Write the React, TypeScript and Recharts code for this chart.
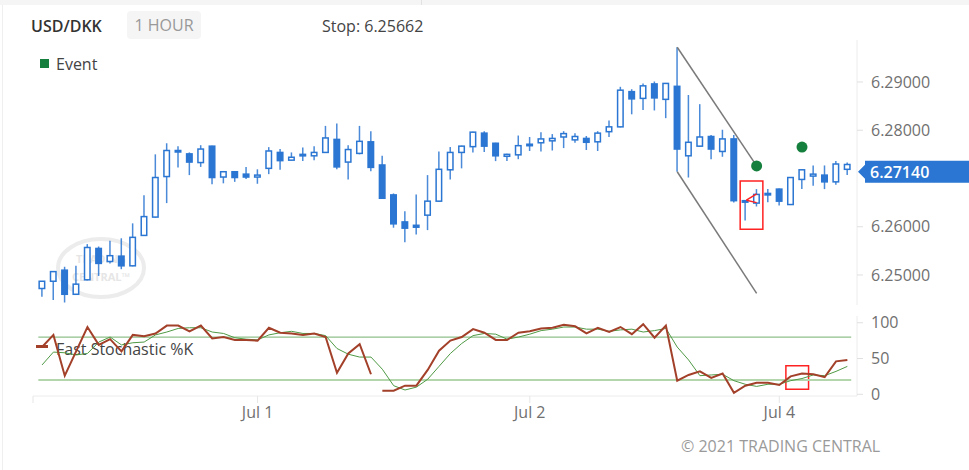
import React from "react";
import {
  ComposedChart,
  Bar,
  Line,
  Scatter,
  XAxis,
  YAxis,
  ReferenceLine,
  ReferenceArea,
} from "recharts";

// hourly candles, USD/DKK
const opens = [
  6.2472, 6.2487, 6.2510, 6.2460, 6.2490, 6.2555, 6.2528, 6.2539, 6.2519, 6.2582,
  6.2620, 6.2704, 6.2758, 6.2751, 6.2733, 6.2767, 6.2703, 6.2714, 6.2709, 6.2703,
  6.2721, 6.2754, 6.2738, 6.2747, 6.2747, 6.2754, 6.2781, 6.2734, 6.2752, 6.2776,
  6.2728, 6.2666, 6.2610, 6.2603, 6.2624, 6.2653, 6.2718, 6.2754, 6.2766, 6.2794,
  6.2773, 6.2746, 6.2749, 6.2768, 6.2774, 6.2778, 6.2786, 6.2780, 6.2783, 6.2776,
  6.2797, 6.2807, 6.2880, 6.2866, 6.2896, 6.2864, 6.2891, 6.2747, 6.2767, 6.2787,
  6.2756, 6.2782, 6.2654, 6.2649, 6.2668, 6.2678, 6.2646, 6.2698, 6.2705, 6.2707,
  6.2693, 6.2719,
];
const highs = [
  6.2487, 6.2508, 6.2517, 6.2519, 6.2564, 6.2559, 6.2571, 6.2576, 6.2607, 6.2665,
  6.2750, 6.2773, 6.2767, 6.2754, 6.2769, 6.2768, 6.2715, 6.2715, 6.2724, 6.2719,
  6.2765, 6.2761, 6.2754, 6.2764, 6.2767, 6.2809, 6.2814, 6.2769, 6.2809, 6.2798,
  6.2747, 6.2669, 6.2632, 6.2667, 6.2707, 6.2756, 6.2765, 6.2768, 6.2797, 6.2798,
  6.2774, 6.2751, 6.2789, 6.2786, 6.2796, 6.2792, 6.2798, 6.2794, 6.2788, 6.2798,
  6.2820, 6.2890, 6.2885, 6.2897, 6.2901, 6.2898, 6.2972, 6.2873, 6.2854, 6.2790,
  6.2801, 6.2790, 6.2655, 6.2678, 6.2678, 6.2679, 6.2703, 6.2719, 6.2727, 6.2727,
  6.2736, 6.2733,
];
const lows = [
  6.2455, 6.2448, 6.2443, 6.2459, 6.2489, 6.2498, 6.2524, 6.2512, 6.2518, 6.2581,
  6.2619, 6.2649, 6.2723, 6.2707, 6.2724, 6.2688, 6.2690, 6.2693, 6.2699, 6.2689,
  6.2709, 6.2718, 6.2737, 6.2736, 6.2738, 6.2753, 6.2719, 6.2698, 6.2750, 6.2715,
  6.2658, 6.2598, 6.2568, 6.2584, 6.2593, 6.2652, 6.2698, 6.2721, 6.2754, 6.2755,
  6.2736, 6.2736, 6.2740, 6.2757, 6.2756, 6.2758, 6.2763, 6.2774, 6.2759, 6.2757,
  6.2786, 6.2806, 6.2833, 6.2842, 6.2841, 6.2825, 6.2714, 6.2702, 6.2766, 6.2740,
  6.2745, 6.2650, 6.2613, 6.2642, 6.2651, 6.2644, 6.2645, 6.2678, 6.2685, 6.2678,
  6.2687, 6.2707,
];
const closes = [
  6.2487, 6.2507, 6.2460, 6.2481, 6.2557, 6.2524, 6.2540, 6.2519, 6.2578, 6.2621,
  6.2702, 6.2758, 6.2757, 6.2734, 6.2761, 6.2702, 6.2714, 6.2702, 6.2703, 6.2707,
  6.2757, 6.2737, 6.2744, 6.2750, 6.2754, 6.2784, 6.2724, 6.2760, 6.2777, 6.2723,
  6.2659, 6.2606, 6.2597, 6.2599, 6.2653, 6.2719, 6.2754, 6.2767, 6.2796, 6.2767,
  6.2747, 6.2750, 6.2768, 6.2771, 6.2782, 6.2783, 6.2793, 6.2787, 6.2775, 6.2794,
  6.2807, 6.2883, 6.2865, 6.2892, 6.2867, 6.2897, 6.2761, 6.2775, 6.2786, 6.2761,
  6.2782, 6.2654, 6.2651, 6.2667, 6.2669, 6.2653, 6.2702, 6.2718, 6.2709, 6.2693,
  6.2730, 6.2729,
];

// fast stochastic %K (line breaks before index 30) and its average
const stochK = [
  66, 83, 26, 60, 94, 69, 77, 60, 83, 81,
  85, 96, 96, 88, 96, 78, 80, 76, 76, 75,
  93, 86, 85, 83, 85, 80, 30, 57, 70, 28,
  5, 5, 12, 12, 34, 61, 75, 80, 91, 86,
  76, 76, 86, 88, 92, 93, 97, 95, 85, 93,
  87, 94, 84, 98, 79, 96, 19, 27, 32, 23,
  29, 2, 12, 16, 16, 13, 25, 29, 28, 24,
  46, 48,
];
const stochD = [
  41, 59, 58, 55, 57, 73, 80, 69, 72, 73,
  83, 87, 92, 93, 93, 87, 85, 79, 77, 76,
  83, 86, 88, 85, 85, 82, 64, 56, 52, 52,
  35, 12, 6, 10, 21, 39, 57, 71, 82, 85,
  84, 77, 80, 84, 89, 91, 94, 94, 91, 91,
  88, 90, 91, 87, 89, 92, 66, 48, 26, 27,
  28, 19, 14, 11, 14, 14, 19, 22, 27, 26,
  32, 39,
];
const kBreakAt = 30;

const eventIdx = [63, 67];
const eventPrice = [6.2726, 6.2765];

const dateTicks = [-0.8, 19, 43, 65];
const dateLabels = ["", "Jul 1", "Jul 2", "Jul 4"];
// 6.27000 sits under the last-price tag
const priceTicks = [6.25, 6.26, 6.28, 6.29];
const stochTicks = [0, 50, 100];
const lastPrice = 6.2714;

const BLUE = "#2b76d2";
const FONT = "'Open Sans', 'Noto Sans', sans-serif";
const X_DOMAIN: [number, number] = [-0.8, 71.85];

const candleRows = opens.map((o, i) => ({
  i,
  o,
  h: highs[i],
  l: lows[i],
  c: closes[i],
  range: [lows[i], highs[i]],
}));

const eventRows = eventIdx.map((i, k) => ({ i, ev: eventPrice[k] }));

const stochRows = stochK.map((k, i) => ({
  i,
  kA: i < kBreakAt ? k : null,
  kB: i >= kBreakAt ? k : null,
  d: stochD[i],
}));

const Candle = (props: any) => {
  const { x, width, payload } = props;
  const y = Math.min(props.y, props.y + props.height);
  const height = Math.abs(props.height);
  const { o, h, l, c } = payload;
  const ppu = height / (h - l);
  const cx = x + width / 2;
  const up = c >= o;
  const top = y + (h - Math.max(o, c)) * ppu;
  const bot = y + (h - Math.min(o, c)) * ppu;
  const bh = Math.max(bot - top, 1.5);
  return (
    <g>
      <line x1={cx} x2={cx} y1={y} y2={y + height} stroke={BLUE} strokeWidth={1.5} opacity={0.85} />
      <rect
        x={x + 0.75}
        y={top}
        width={width - 1.5}
        height={bh}
        fill={up ? "#fff" : BLUE}
        stroke={BLUE}
        strokeWidth={1.5}
      />
    </g>
  );
};

const EventDot = (props: any) => (
  <circle cx={props.cx} cy={props.cy} r={5.5} fill="#15803d" />
);

const PriceTag = (props: any) => {
  const vb = props.viewBox || {};
  const x = vb.x + vb.width;
  const y = vb.y;
  return (
    <g>
      <polygon
        points={`${x + 1},${y} ${x + 8},${y - 7} ${x + 8},${y - 11} ${x + 120},${y - 11} ${x + 120},${y + 11} ${x + 8},${y + 11} ${x + 8},${y + 7}`}
        fill={BLUE}
      />
      <text x={x + 13} y={y + 6} fill="#fff" fontSize={16} fontWeight={600} fontFamily={FONT}>
        {lastPrice.toFixed(5)}
      </text>
    </g>
  );
};

const tickStyle = { fill: "#707070", fontSize: 16, fontFamily: FONT };

export default function App() {
  return (
    <div
      style={{
        position: "absolute",
        left: 0,
        top: 0,
        width: 969,
        height: 470,
        background: "#fff",
        fontFamily: FONT,
        overflow: "hidden",
      }}
    >
      <div style={{ position: "absolute", left: 0, top: 0, width: 969, height: 5, background: "#f5f5f5" }} />
      <div style={{ position: "absolute", left: 421, top: 0, width: 1, height: 5, background: "#e2e2e2" }} />
      <div style={{ position: "absolute", left: 2, top: 5, width: 1, height: 465, background: "#efefef" }} />

      <div style={{ position: "absolute", left: 31, top: 15, fontSize: 16, fontWeight: 600, color: "#333", lineHeight: "22px" }}>
        USD/DKK
      </div>
      <div
        style={{
          position: "absolute",
          left: 127,
          top: 11,
          width: 74,
          height: 28,
          background: "#f5f5f5",
          borderRadius: 4,
          color: "#999",
          fontSize: 16,
          lineHeight: "28px",
          textAlign: "center",
        }}
      >
        1 HOUR
      </div>
      <div style={{ position: "absolute", left: 322, top: 15, fontSize: 16, color: "#444", lineHeight: "22px" }}>
        Stop: 6.25662
      </div>

      <div style={{ position: "absolute", left: 40, top: 59, width: 9, height: 9, background: "#15803d" }} />
      <div style={{ position: "absolute", left: 56, top: 53, fontSize: 16, color: "#444", lineHeight: "22px" }}>
        Event
      </div>

      <svg style={{ position: "absolute", left: 0, top: 0 }} width={969} height={470}>
        <ellipse cx={101} cy={268} rx={43} ry={29} fill="none" stroke="#ececec" strokeWidth={4} />
        <text x={101} y={263} textAnchor="middle" fontSize={11} fontWeight={700} fill="#e6e6e6" fontFamily={FONT}>
          TRADING
        </text>
        <text x={101} y={281} textAnchor="middle" fontSize={11} fontWeight={700} fill="#e6e6e6" fontFamily={FONT}>
          CENTRAL™
        </text>
      </svg>

      <div style={{ position: "absolute", left: 36, top: 345, width: 12, height: 3, background: "#a3402a" }} />
      <div style={{ position: "absolute", left: 56, top: 338, fontSize: 16, color: "#444", lineHeight: "22px" }}>
        Fast Stochastic %K
      </div>

      <div style={{ position: "absolute", left: 0, top: 0 }}>
        <ComposedChart
          width={969}
          height={310}
          data={candleRows}
          margin={{ top: 40, right: 0, left: 33, bottom: 5 }}
        >
          <XAxis dataKey="i" type="number" domain={X_DOMAIN} allowDataOverflow hide />
          <YAxis
            orientation="right"
            width={112}
            domain={[6.24378, 6.2987]}
            allowDataOverflow
            ticks={priceTicks}
            tickFormatter={(v: number) => v.toFixed(5)}
            axisLine={{ stroke: "#ececec" }}
            tickLine={{ stroke: "#e0e0e0" }}
            tickSize={6}
            tickMargin={8}
            tick={tickStyle}
          />
          <Bar dataKey="range" barSize={7} shape={Candle} isAnimationActive={false} />
          <ReferenceLine
            segment={[{ x: 56, y: 6.2972 }, { x: 63, y: 6.2726 }]}
            stroke="#7a7a7a"
            strokeWidth={1.5}
          />
          <ReferenceLine
            segment={[{ x: 56, y: 6.2714 }, { x: 63, y: 6.2462 }]}
            stroke="#7a7a7a"
            strokeWidth={1.5}
          />
          <ReferenceArea
            x1={61.55}
            x2={63.55}
            y1={6.2595}
            y2={6.2695}
            fill="none"
            stroke="#ff2222"
            strokeWidth={1.5}
            fillOpacity={0}
          />
          <ReferenceLine
            segment={[{ x: 62.1, y: 6.2655 }, { x: 63, y: 6.2668 }]}
            stroke="#ff2222"
            strokeWidth={1.5}
          />
          <ReferenceLine
            segment={[{ x: 62.1, y: 6.2655 }, { x: 63, y: 6.2650 }]}
            stroke="#ff2222"
            strokeWidth={1.5}
          />
          <Scatter data={eventRows} dataKey="ev" shape={EventDot} isAnimationActive={false} />
          <ReferenceLine y={lastPrice} stroke="none" label={(p: any) => <PriceTag viewBox={p.viewBox} />} />
        </ComposedChart>
      </div>

      <div style={{ position: "absolute", left: 0, top: 310 }}>
        <ComposedChart
          width={969}
          height={116}
          data={stochRows}
          margin={{ top: 6, right: 0, left: 33, bottom: 0 }}
        >
          <XAxis
            dataKey="i"
            type="number"
            domain={X_DOMAIN}
            allowDataOverflow
            ticks={dateTicks}
            interval={0}
            tickFormatter={(v: number) => dateLabels[dateTicks.indexOf(v)] || ""}
            height={30}
            axisLine={{ stroke: "#ececec" }}
            tickLine={{ stroke: "#e6e6e6" }}
            tickSize={7}
            tickMargin={4}
            tick={tickStyle}
          />
          <YAxis
            orientation="right"
            width={112}
            domain={[-2.4, 109.4]}
            allowDataOverflow
            ticks={stochTicks}
            axisLine={{ stroke: "#ececec" }}
            tickLine={{ stroke: "#e0e0e0" }}
            tickSize={6}
            tickMargin={8}
            tick={tickStyle}
          />
          <ReferenceLine
            segment={[{ x: -0.33, y: 80 }, { x: 71.34, y: 80 }]}
            stroke="#8fc08a"
            strokeWidth={1.3}
          />
          <ReferenceLine
            segment={[{ x: -0.33, y: 20 }, { x: 71.34, y: 20 }]}
            stroke="#b3d6ad"
            strokeWidth={2}
          />
          <Line dataKey="d" stroke="#4f9a45" strokeWidth={1} dot={false} isAnimationActive={false} />
          <Line dataKey="kA" stroke="#a3402a" strokeWidth={2} dot={false} isAnimationActive={false} />
          <Line dataKey="kB" stroke="#a3402a" strokeWidth={2} dot={false} isAnimationActive={false} />
          <ReferenceArea
            x1={65.58}
            x2={67.58}
            y1={7}
            y2={40}
            fill="none"
            fillOpacity={0}
            stroke="#ff2222"
            strokeWidth={1.5}
          />
        </ComposedChart>
      </div>

      <div style={{ position: "absolute", left: 681, top: 435, fontSize: 16, color: "#9a9a9a", lineHeight: "22px" }}>
        © 2021 TRADING CENTRAL
      </div>
    </div>
  );
}
